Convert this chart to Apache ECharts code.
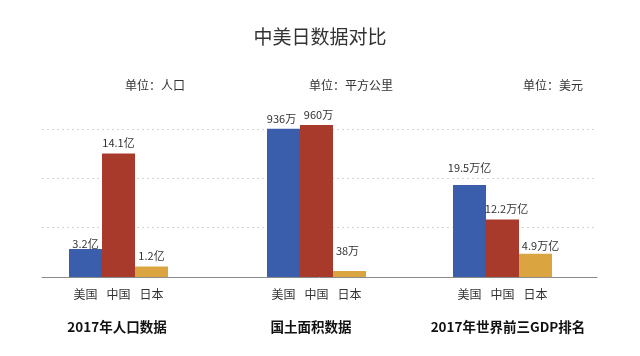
<!DOCTYPE html>
<html>
<head>
<meta charset="utf-8">
<script src="https://cdn.jsdelivr.net/npm/echarts@6/dist/echarts.min.js"></script>
<style>html,body{margin:0;padding:0;background:#fff}#c{width:640px;height:356px}</style>
</head>
<body>
<div id="c"></div>
<script>
// ---- data ----
const categories = ['美国', '中国', '日本'];
const population = [3.2, 14.1, 1.2];      // 亿
const landArea = [936, 960, 38];          // 万平方公里
const gdp = [19.5, 12.2, 4.9];            // 万亿美元
const suffixes = ['亿', '万', '万亿'];
const unitTexts = ['单位：人口', '单位：平方公里', '单位：美元'];
const panelNames = ['2017年人口数据', '国土面积数据', '2017年世界前三GDP排名'];
const mainTitle = '中美日数据对比';

// ---- style / layout ----
const FONT = '"Noto Sans CJK SC", "Noto Sans", sans-serif';
const barColors = ['#3a5eab', '#a83a2c', '#daa540'];
const panelLeft = [69, 267, 453];
const panelMax = [20.2, 1118, 37.5];
const labelDist = [[0, 5, 5], [5, 5, 15], [12, 5, 3]];
const labelDx = [[0, 0, 0], [-2, 2, -2], [0, 4, 5]];
const unitX = [155, 351, 553];
const nameX = [117, 311, 508];

const seriesData = [population, landArea, gdp];

const chart = echarts.init(document.getElementById('c'), null, {renderer: 'canvas'});

const grids = [{left: 42, right: 43, top: 129, bottom: 79}];
const xAxes = [{gridIndex: 0, type: 'category', data: [''], axisTick: {show: false},
  axisLabel: {show: false}, axisLine: {lineStyle: {color: '#8a8a8a', width: 1}}}];
const yAxes = [{gridIndex: 0, type: 'value', min: 0, max: 3, interval: 1,
  axisLabel: {show: false}, axisLine: {show: false}, axisTick: {show: false},
  splitLine: {lineStyle: {color: '#d4d4d4', type: [2, 3], width: 1}}}];
const series = [];

for (let p = 0; p < 3; p++) {
  grids.push({left: panelLeft[p], width: 99, top: 100, bottom: 79});
  xAxes.push({gridIndex: p + 1, type: 'category', data: categories,
    axisLine: {show: false}, axisTick: {show: false},
    axisLabel: {fontSize: 12, color: '#333', fontFamily: FONT, margin: 11}});
  yAxes.push({gridIndex: p + 1, type: 'value', min: 0, max: panelMax[p], show: false,
    splitLine: {show: false}});
  series.push({
    type: 'bar', xAxisIndex: p + 1, yAxisIndex: p + 1,
    barWidth: '100%', barCategoryGap: 0,
    data: seriesData[p].map((v, i) => ({
      value: v,
      itemStyle: {color: barColors[i]},
      label: {show: true, position: 'top', distance: labelDist[p][i], offset: [labelDx[p][i], 0],
        formatter: () => v + suffixes[p], fontSize: 11, color: '#333', fontFamily: FONT}
    })),
    silent: true, animation: false
  });
}

const graphics = [];
for (let p = 0; p < 3; p++) {
  graphics.push({type: 'text', x: unitX[p], y: 85, silent: true,
    style: {text: unitTexts[p], fontSize: 12, fill: '#333', fontFamily: FONT,
      textAlign: 'center', textVerticalAlign: 'middle'}});
  graphics.push({type: 'text', x: nameX[p], y: 327, silent: true,
    style: {text: panelNames[p], fontSize: 13.5, fontWeight: 'bold', fill: '#111', fontFamily: FONT,
      textAlign: 'center', textVerticalAlign: 'middle'}});
}

chart.setOption({
  animation: false,
  backgroundColor: '#fff',
  title: {text: mainTitle, left: 'center', top: 22,
    textStyle: {fontSize: 19, fontWeight: 'normal', color: '#333', fontFamily: FONT}},
  grid: grids,
  xAxis: xAxes,
  yAxis: yAxes,
  series: series,
  graphic: graphics
});
</script>
</body>
</html>
